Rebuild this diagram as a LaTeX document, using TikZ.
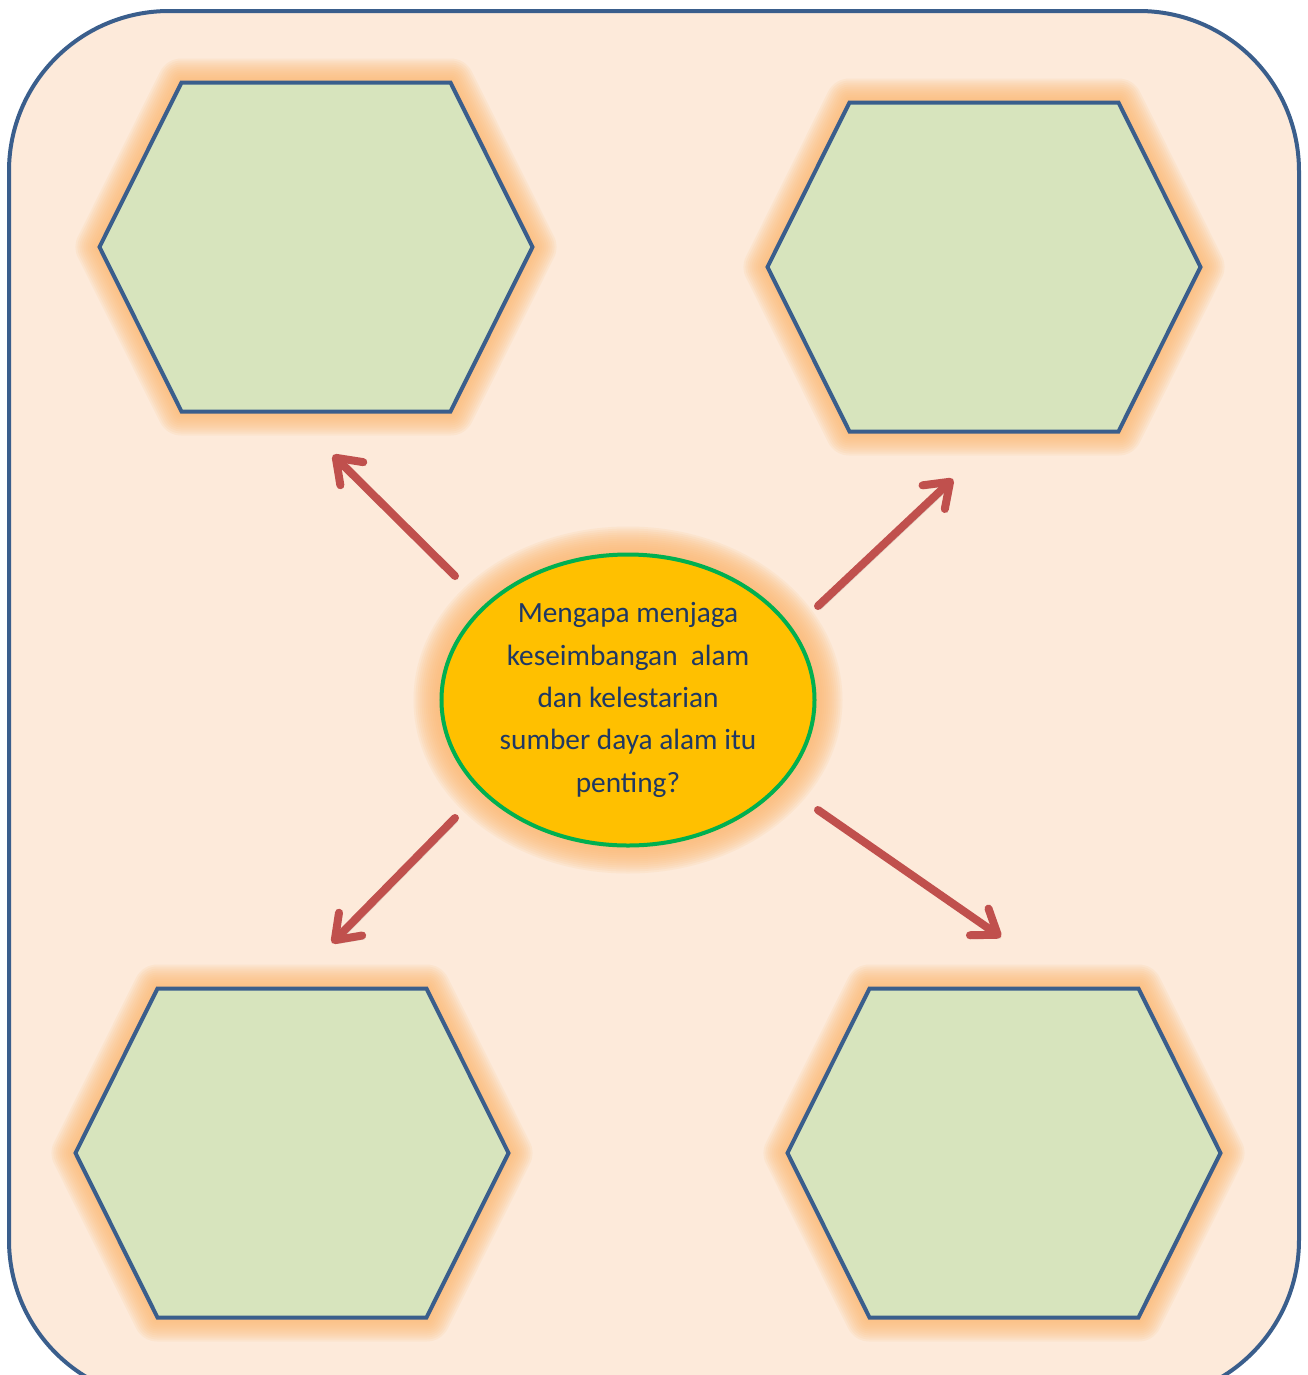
\documentclass[tikz,border=0pt]{standalone}
\usepackage{fontspec}
\setmainfont{Carlito}
\usepackage{xcolor}
\usetikzlibrary{shapes.geometric, shapes.symbols, arrows.meta}

\definecolor{boxfill}{HTML}{FDEADA}
\definecolor{boxline}{HTML}{3A5E8C}
\definecolor{hexfill}{HTML}{D7E4BD}
\definecolor{glow}{HTML}{FBBA74}
\definecolor{arrowred}{HTML}{C0504D}
\definecolor{qfill}{HTML}{FFC000}
\definecolor{qline}{HTML}{00B050}
\definecolor{qtext}{HTML}{1F3864}

\begin{document}
\begin{tikzpicture}[x=0.2mm,y=-0.2mm,
  hexa/.style={signal, signal to=west and east, signal pointer angle=127,
    minimum width=86.6mm, minimum height=65.8mm, inner sep=0pt},
  hex/.style={hexa, draw=boxline, fill=hexfill, line width=0.8mm},
  hexglow/.style={hexa, draw=glow, draw opacity=0.12, line join=round, line width=#1},
  qshape/.style={ellipse, minimum width=74.6mm, minimum height=58.2mm, inner sep=0pt},
  question/.style={qshape, draw=qline, fill=qfill, line width=0.8mm, align=center,
    text=qtext, font=\fontsize{16.7}{24.1}\selectfont},
  qglow/.style={qshape, draw=glow, draw opacity=0.12, line width=#1},
  link/.style={draw=arrowred, line width=1.6mm, line cap=round,
    -{Straight Barb[length=4.5mm, width=6.5mm, round]},
    preaction={draw=black!50, draw opacity=0.25,
      transform canvas={shift={(0.5mm,-0.7mm)}}}}]

\useasboundingbox (0,0) rectangle (1308,1375);

% Background panel
\draw[draw=boxline, fill=boxfill, line width=0.8mm, rounded corners=32mm]
  (9,11) rectangle (1299,1400);

% Define nodes
\foreach \n/\x/\y in {h1/316/247, h2/984/267, h3/292/1153, h4/1004/1153}{
  \foreach \w in {0.8,1.6,...,10.4}
    \node[hexglow=\w mm] at (\x,\y) {};
  \node[hex] (\n) at (\x,\y) {};
}
\foreach \w in {0.8,1.6,...,12}
  \node[qglow=\w mm] at (628,700) {};
\node[question] (q) at (628,700)
  {Mengapa menjaga\\keseimbangan~~alam\\dan kelestarian\\sumber daya alam itu\\penting?};

% Arrow ends
\coordinate (s1) at (455,576);
\coordinate (e1) at (333,455);
\coordinate (s2) at (818,606);
\coordinate (e2) at (953,479);
\coordinate (s3) at (455,818);
\coordinate (e3) at (332,943);
\coordinate (s4) at (818,810);
\coordinate (e4) at (1001,937);

% Connect the nodes
\draw[link] (s1) -- (e1);
\draw[link] (s2) -- (e2);
\draw[link] (s3) -- (e3);
\draw[link] (s4) -- (e4);

\end{tikzpicture}
\end{document}
